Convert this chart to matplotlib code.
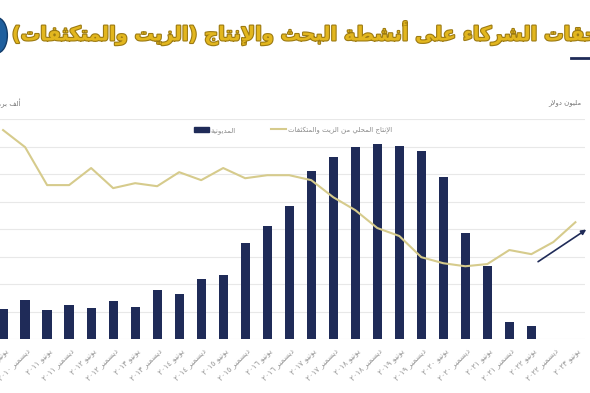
import numpy as np
import matplotlib
matplotlib.use("Agg")
import matplotlib.pyplot as plt
import matplotlib.patheffects as pe
from matplotlib.patches import Patch, Ellipse
from matplotlib.lines import Line2D

# البيانات (قيم تقريبية مقروءة من الرسم)
periods = ["يونيو ٢٠١٠", "ديسمبر ٢٠١٠", "يونيو ٢٠١١", "ديسمبر ٢٠١١", "يونيو ٢٠١٢",
           "ديسمبر ٢٠١٢", "يونيو ٢٠١٣", "ديسمبر ٢٠١٣", "يونيو ٢٠١٤", "ديسمبر ٢٠١٤",
           "يونيو ٢٠١٥", "ديسمبر ٢٠١٥", "يونيو ٢٠١٦", "ديسمبر ٢٠١٦", "يونيو ٢٠١٧",
           "ديسمبر ٢٠١٧", "يونيو ٢٠١٨", "ديسمبر ٢٠١٨", "يونيو ٢٠١٩", "ديسمبر ٢٠١٩",
           "يونيو ٢٠٢٠", "ديسمبر ٢٠٢٠", "يونيو ٢٠٢١", "ديسمبر ٢٠٢١", "يونيو ٢٠٢٢",
           "ديسمبر ٢٠٢٢", "يونيو ٢٠٢٣"]
debt = [1090, 1420, 1050, 1240, 1130, 1380, 1160, 1780, 1640, 2180, 2330, 3490,
        4110, 4840, 6110, 6620, 6980, 7090, 7020, 6840, 5890, 3850, 2650, 620, 470,
        np.nan, np.nan]
production = [760, 698, 560, 560, 622, 549, 567, 556, 607, 578, 622, 585, 596, 596,
              578, 516, 469, 404, 375, 298, 276, 265, 273, 324, 309, 353, 425]

title = "مستحقات الشركاء على أنشطة البحث والإنتاج (الزيت والمتكثفات)"
debt_label = "المديونية"
prod_label = "الإنتاج المحلي من الزيت والمتكثفات"
left_unit = "ألف برميل يوميا"
right_unit = "مليون دولار"

# تشكيل الحروف العربية يدوياً (matplotlib لا يدعم الربط ولا الاتجاه من اليمين)
RIGHT = {'آ': 0xFE81, 'أ': 0xFE83, 'ؤ': 0xFE85, 'إ': 0xFE87, 'ا': 0xFE8D, 'ة': 0xFE93,
         'د': 0xFEA9, 'ذ': 0xFEAB, 'ر': 0xFEAD, 'ز': 0xFEAF, 'و': 0xFEED, 'ى': 0xFEEF,
         '\uE001': 0xFEF5, '\uE002': 0xFEF7, '\uE003': 0xFEF9, '\uE004': 0xFEFB}
DUAL = {'ئ': 0xFE89, 'ب': 0xFE8F, 'ت': 0xFE95, 'ث': 0xFE99, 'ج': 0xFE9D, 'ح': 0xFEA1,
        'خ': 0xFEA5, 'س': 0xFEB1, 'ش': 0xFEB5, 'ص': 0xFEB9, 'ض': 0xFEBD, 'ط': 0xFEC1,
        'ظ': 0xFEC5, 'ع': 0xFEC9, 'غ': 0xFECD, 'ف': 0xFED1, 'ق': 0xFED5, 'ك': 0xFED9,
        'ل': 0xFEDD, 'م': 0xFEE1, 'ن': 0xFEE5, 'ه': 0xFEE9, 'ي': 0xFEF1}


def shape(word):
    s = (word.replace('لآ', '\uE001').replace('لأ', '\uE002')
         .replace('لإ', '\uE003').replace('لا', '\uE004'))
    res = []
    for i, c in enumerate(s):
        prev = s[i - 1] if i > 0 else ''
        nxt = s[i + 1] if i + 1 < len(s) else ''
        pj = prev in DUAL
        if c in DUAL:
            nj = nxt in DUAL or nxt in RIGHT
            res.append(chr(DUAL[c] + (3 if pj and nj else 1 if pj else 2 if nj else 0)))
        elif c in RIGHT:
            res.append(chr(RIGHT[c] + (1 if pj else 0)))
        else:
            res.append(c)
    return ''.join(res)


def rtl(text):
    swap = {'(': ')', ')': '('}
    out = []
    for w in text.split(' '):
        if w.isdigit():
            out.append(w)
        else:
            out.append(''.join(swap.get(c, c) for c in shape(w)[::-1]))
    return ' '.join(out[::-1])


plt.rcParams['font.family'] = ['DejaVu Sans']

fig = plt.figure(figsize=(5.9, 3.93), dpi=100)
ax = fig.add_axes([0.0, 0.137, 0.992, 0.56])
ax2 = ax.twinx()
ax.set_zorder(ax2.get_zorder() + 1)
ax.patch.set_visible(False)

x = np.arange(len(periods))
navy = '#1f2b58'
gold_line = '#d6cb8c'

ax2.bar(x, debt, width=0.42, color=navy)
ax2.set_ylim(0, 8000)
ax2.set_yticks(np.arange(0, 8001, 1000))
ax2.grid(axis='y', color='#e8e8e8', linewidth=0.8)
ax2.set_axisbelow(True)

ax.plot(x, production, color=gold_line, linewidth=1.5)
ax.set_ylim(0, 800)
ax.set_xlim(-0.14, 26.45)

for a in (ax, ax2):
    for sp in a.spines.values():
        sp.set_visible(False)
    a.tick_params(axis='y', length=0, labelleft=False, labelright=False)
ax2.tick_params(axis='x', length=0)
ax.set_xticks(x)
ax.set_xticklabels([rtl(p) for p in periods], rotation=45, ha='right',
                   rotation_mode='anchor', fontsize=5.5, color='#9a9a9a')
ax.tick_params(axis='x', length=0, pad=5)

# وسيلة الإيضاح
handles = [Patch(color=navy), Line2D([], [], color=gold_line, linewidth=1.5)]
ax.legend(handles, [rtl(debt_label), rtl(prod_label)], ncol=2, frameon=False,
          loc='upper left', bbox_to_anchor=(0.32, 0.995), fontsize=5,
          labelcolor='#8a8a8a', handlelength=2.2, handletextpad=0.3,
          columnspacing=5.0)

# سهم الاتجاه
ax.annotate('', xy=(26.6, 404), xytext=(24.2, 276), annotation_clip=False,
            arrowprops=dict(arrowstyle='-|>', color=navy, lw=1.2, mutation_scale=7))

# وحدات المحاور
fig.text(0.985, 0.738, rtl(right_unit), ha='right', va='center', fontsize=5,
         color='#777777')
fig.text(0.035, 0.738, rtl(left_unit), ha='right', va='center', fontsize=5,
         color='#777777')

# العنوان
fig.text(0.02, 0.915, rtl(title), ha='left', va='center', fontsize=14,
         fontweight='bold', color='#e2b61e',
         path_effects=[pe.withStroke(linewidth=1.6, foreground='#9c7a12')])

# شعار مقطوع وخط زخرفي
fig.patches.append(Ellipse((-0.005, 0.91), 0.035, 0.09, transform=fig.transFigure,
                           facecolor='#1e5f9e', edgecolor='#123c6a', linewidth=1))
fig.add_artist(Line2D([0.968, 1.0], [0.852, 0.852], transform=fig.transFigure,
                      color=navy, linewidth=2))

fig.savefig('out.png', dpi=100)
